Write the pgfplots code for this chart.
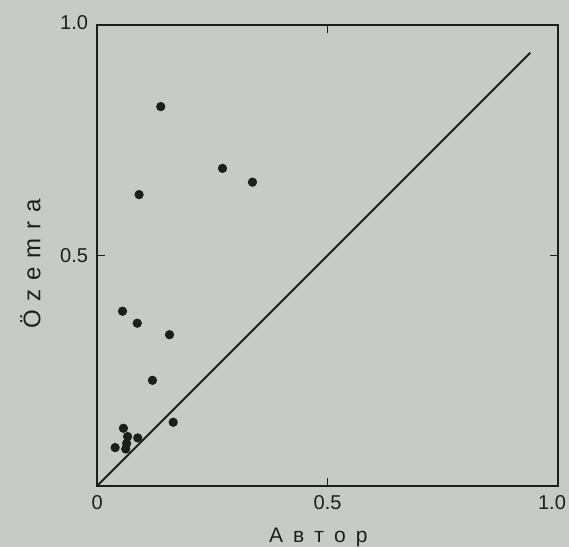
\documentclass[border=0pt]{standalone}
\usepackage{pgfplots}
\pgfplotsset{compat=1.18}
\usepackage{fontspec}
\setmainfont{Liberation Sans}
\definecolor{paper}{RGB}{199,203,197}
\definecolor{ink}{RGB}{30,30,30}
\begin{document}
\begin{tikzpicture}
\path[use as bounding box, fill=paper] (-48.5pt,-30.5pt) rectangle (235.5pt,242.5pt);
\begin{axis}[
  at={(0,0)}, anchor=south west,
  scale only axis, width=230pt, height=230pt,
  xmin=0, xmax=1, ymin=0, ymax=1,
  axis line style={ink, line width=1pt},
  xtick={0,0.5,1}, ytick={0,0.5,1},
  xticklabels={0,0.5,{\hspace{-6pt}1.0}}, yticklabels={,0.5,{\raisebox{3pt}{1.0}}},
  tick align=inside, tick pos=both, major tick length=4pt,
  tick style={ink, line width=0.8pt},
  /pgf/number format/assume math mode=true,
  every tick label/.append style={font=\fontsize{10}{12}\selectfont, text=ink},
  xticklabel style={yshift=-1.5pt},
  yticklabel style={xshift=-1pt},
  xlabel={\fontsize{10.5}{12}\selectfont А\hspace{5pt}в\hspace{5pt}т\hspace{5pt}о\hspace{5pt}р},
  xlabel style={at={(axis description cs:0.48,0)}, anchor=center, yshift=-26pt, text=ink},
  ylabel={\fontsize{12}{14}\selectfont Ö\hspace{4.4pt}z\hspace{4.4pt}e\hspace{4.4pt}m\hspace{4.4pt}r\hspace{4.4pt}a},
  ylabel style={at={(axis description cs:-0.145,0.482)}, anchor=center, text=ink},
]
\addplot[ink, line width=0.9pt, no marks] coordinates {(0,0) (0.94,0.94)};
\addplot[only marks, mark=*, mark size=2.1pt, ink, mark options={fill=ink, draw=ink}] coordinates {
(0.138,0.823)
(0.272,0.689)
(0.337,0.659)
(0.091,0.632)
(0.055,0.379)
(0.087,0.353)
(0.157,0.328)
(0.120,0.229)
(0.165,0.138)
(0.057,0.125)
(0.066,0.107)
(0.088,0.104)
(0.039,0.083)
(0.062,0.080)
(0.064,0.092)
};
\end{axis}
\end{tikzpicture}
\end{document}
